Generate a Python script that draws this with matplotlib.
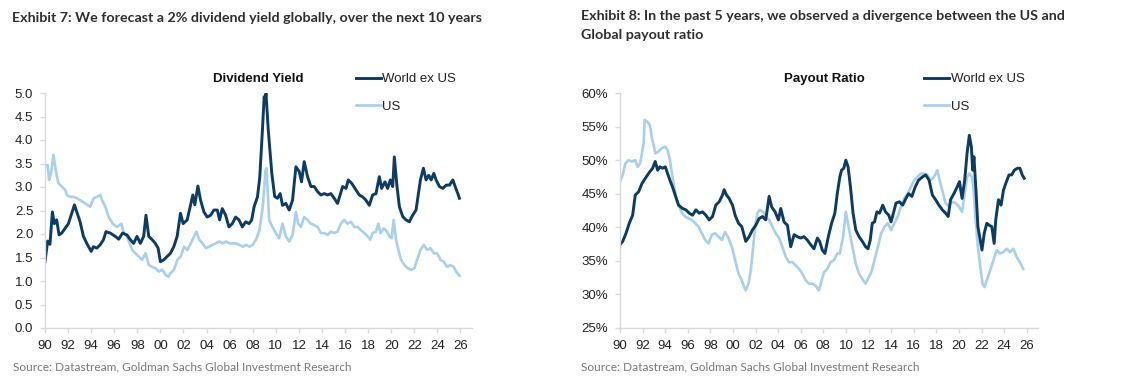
import matplotlib
matplotlib.use("Agg")
import matplotlib.pyplot as plt
from matplotlib.ticker import FixedLocator, FuncFormatter

# ---- data ----
years_ticks = list(range(1990, 2027, 2))

# Dividend yield, World ex US
dy_world_t = [1990.00, 1990.23, 1990.43, 1990.64, 1990.81, 1991.01, 1991.22, 1991.45, 1991.74, 1992.03,
              1992.26, 1992.55, 1992.75, 1993.04, 1993.33, 1993.62, 1994.00, 1994.20, 1994.49, 1994.78,
              1995.07, 1995.28, 1995.65, 1996.09, 1996.38, 1996.72, 1997.10, 1997.39, 1997.68, 1997.97,
              1998.26, 1998.55, 1998.75, 1998.99, 1999.28, 1999.56, 1999.80, 2000.00, 2000.29, 2000.58,
              2000.87, 2001.16, 2001.45, 2001.74, 2001.97, 2002.32, 2002.61, 2002.81, 2002.98, 2003.25,
              2003.48, 2003.77, 2004.06, 2004.35, 2004.64, 2004.93, 2005.13, 2005.36, 2005.65, 2005.94,
              2006.23, 2006.52, 2006.81, 2007.10, 2007.39, 2007.68, 2007.91, 2008.12, 2008.41, 2008.61,
              2008.84, 2008.99, 2009.08, 2009.15, 2009.35, 2009.65, 2009.90, 2010.14, 2010.38, 2010.58,
              2010.87, 2011.16, 2011.45, 2011.74, 2012.03, 2012.23, 2012.46, 2012.75, 2013.04, 2013.33,
              2013.62, 2013.91, 2014.20, 2014.49, 2014.77, 2015.06, 2015.35, 2015.79, 2016.08, 2016.28,
              2016.57, 2016.94, 2017.23, 2017.52, 2017.81, 2018.10, 2018.39, 2018.68, 2018.97, 2019.17,
              2019.46, 2019.69, 2019.92, 2020.13, 2020.27, 2020.50, 2020.71, 2021.00, 2021.28, 2021.57,
              2021.86, 2022.15, 2022.36, 2022.53, 2022.79, 2023.02, 2023.25, 2023.46, 2023.69, 2023.89,
              2024.18, 2024.47, 2024.76, 2025.05, 2025.34, 2025.54, 2025.77, 2025.91]
dy_world_v = [1.41, 1.85, 1.78, 2.47, 2.22, 2.30, 1.98, 2.02, 2.12, 2.22,
              2.40, 2.62, 2.47, 2.26, 1.95, 1.80, 1.63, 1.73, 1.70, 1.77,
              1.88, 2.05, 2.02, 1.95, 1.89, 2.02, 1.98, 1.88, 1.80, 1.95,
              1.80, 1.95, 2.40, 1.95, 1.88, 1.80, 1.70, 1.41, 1.45, 1.52,
              1.59, 1.73, 1.95, 2.44, 2.22, 2.30, 2.62, 2.83, 2.62, 3.02,
              2.72, 2.47, 2.36, 2.40, 2.51, 2.51, 2.30, 2.54, 2.40, 2.15,
              2.22, 2.36, 2.30, 2.15, 2.26, 2.22, 2.30, 2.58, 2.79, 3.21,
              4.21, 4.92, 4.85, 4.99, 4.20, 3.30, 2.80, 2.76, 2.86, 2.61,
              2.65, 2.51, 2.72, 3.43, 3.33, 3.11, 3.54, 3.22, 3.01, 3.01,
              2.90, 2.83, 2.86, 2.83, 2.86, 2.76, 2.65, 3.01, 2.97, 3.15,
              3.08, 2.94, 2.83, 2.79, 2.72, 2.61, 2.83, 2.86, 3.22, 2.97,
              3.11, 2.97, 3.15, 3.01, 3.64, 3.01, 2.58, 2.37, 2.30, 2.26,
              2.40, 2.51, 2.86, 3.15, 3.40, 3.15, 3.25, 3.15, 3.29, 3.15,
              3.01, 2.97, 3.04, 3.04, 3.15, 3.01, 2.86, 2.76]

# Dividend yield, US
dy_us_t = [1990.00, 1990.23, 1990.35, 1990.52, 1990.73, 1990.93, 1991.16, 1991.45, 1991.74, 1991.89,
           1992.18, 1992.47, 1992.76, 1993.05, 1993.48, 1993.92, 1994.21, 1994.50, 1994.79, 1994.94,
           1995.23, 1995.52, 1995.87, 1996.24, 1996.62, 1996.82, 1997.11, 1997.55, 1997.84, 1998.13,
           1998.42, 1998.71, 1999.00, 1999.29, 1999.58, 1999.87, 2000.16, 2000.45, 2000.69, 2000.89,
           2001.18, 2001.47, 2001.76, 2002.05, 2002.34, 2002.63, 2002.92, 2003.12, 2003.36, 2003.65,
           2003.94, 2004.23, 2004.52, 2004.81, 2005.10, 2005.39, 2005.68, 2005.97, 2006.26, 2006.55,
           2006.84, 2007.13, 2007.42, 2007.71, 2008.00, 2008.29, 2008.58, 2008.87, 2009.11, 2009.20,
           2009.42, 2009.71, 2010.00, 2010.29, 2010.58, 2010.87, 2011.16, 2011.45, 2011.74, 2011.94,
           2012.17, 2012.46, 2012.75, 2013.04, 2013.33, 2013.62, 2013.91, 2014.20, 2014.49, 2014.77,
           2015.06, 2015.35, 2015.64, 2015.93, 2016.22, 2016.51, 2016.80, 2017.09, 2017.38, 2017.67,
           2017.96, 2018.19, 2018.39, 2018.68, 2018.88, 2019.06, 2019.35, 2019.64, 2019.84, 2020.04,
           2020.21, 2020.42, 2020.62, 2020.85, 2021.14, 2021.43, 2021.72, 2022.01, 2022.24, 2022.53,
           2022.82, 2023.11, 2023.40, 2023.69, 2023.98, 2024.27, 2024.55, 2024.84, 2025.13, 2025.42,
           2025.63, 2025.91]
dy_us_v = [3.43, 3.47, 3.15, 3.29, 3.68, 3.36, 3.08, 3.01, 2.94, 2.83,
           2.79, 2.79, 2.76, 2.72, 2.65, 2.58, 2.76, 2.79, 2.83, 2.72,
           2.58, 2.36, 2.22, 2.15, 2.22, 2.02, 1.95, 1.66, 1.59, 1.52,
           1.45, 1.59, 1.34, 1.30, 1.27, 1.20, 1.24, 1.13, 1.09, 1.17,
           1.24, 1.45, 1.52, 1.73, 1.66, 1.80, 1.95, 2.05, 1.88, 1.80,
           1.70, 1.73, 1.77, 1.80, 1.84, 1.80, 1.84, 1.80, 1.80, 1.80,
           1.77, 1.73, 1.77, 1.73, 1.77, 1.88, 2.08, 2.58, 3.36, 3.40,
           2.30, 2.15, 2.02, 1.91, 2.22, 1.95, 1.84, 1.98, 2.47, 2.22,
           2.15, 2.36, 2.30, 2.22, 2.19, 2.15, 2.02, 2.02, 1.98, 2.05,
           2.02, 2.05, 2.22, 2.30, 2.22, 2.26, 2.15, 2.15, 2.08, 2.02,
           1.95, 1.88, 2.02, 2.05, 2.22, 2.02, 2.12, 2.05, 1.95, 1.91,
           2.30, 1.88, 1.66, 1.45, 1.34, 1.27, 1.24, 1.27, 1.45, 1.66,
           1.77, 1.66, 1.70, 1.59, 1.59, 1.45, 1.41, 1.30, 1.34, 1.30,
           1.20, 1.11]

# Payout ratio, World ex US (%)
po_world_t = [1990.00, 1990.24, 1990.53, 1990.82, 1991.12, 1991.35, 1991.65, 1991.94, 1992.24, 1992.44,
              1992.65, 1992.89, 1993.12, 1993.33, 1993.53, 1993.77, 1994.01, 1994.21, 1994.42, 1994.65,
              1994.89, 1995.18, 1995.54, 1995.83, 1996.13, 1996.42, 1996.72, 1997.01, 1997.30, 1997.60,
              1997.89, 1998.19, 1998.48, 1998.78, 1999.07, 1999.22, 1999.43, 1999.66, 1999.96, 2000.19,
              2000.49, 2000.78, 2001.13, 2001.43, 2001.72, 2002.02, 2002.31, 2002.61, 2002.90, 2003.20,
              2003.43, 2003.73, 2004.02, 2004.23, 2004.52, 2004.82, 2005.11, 2005.41, 2005.70, 2005.99,
              2006.29, 2006.58, 2006.88, 2007.17, 2007.47, 2007.67, 2007.91, 2008.14, 2008.44, 2008.73,
              2009.02, 2009.23, 2009.46, 2009.61, 2009.81, 2009.99, 2010.19, 2010.40, 2010.63, 2010.87,
              2011.16, 2011.45, 2011.74, 2011.95, 2012.15, 2012.33, 2012.53, 2012.74, 2012.97, 2013.26,
              2013.50, 2013.79, 2013.99, 2014.20, 2014.43, 2014.73, 2015.02, 2015.31, 2015.54, 2015.84,
              2016.13, 2016.42, 2016.77, 2017.06, 2017.36, 2017.65, 2017.94, 2018.23, 2018.53, 2018.82,
              2019.05, 2019.26, 2019.55, 2019.84, 2020.05, 2020.28, 2020.51, 2020.72, 2020.92, 2021.10,
              2021.22, 2021.33, 2021.51, 2021.68, 2021.89, 2022.04, 2022.24, 2022.47, 2022.68, 2022.91,
              2023.12, 2023.26, 2023.50, 2023.73, 2023.94, 2024.14, 2024.43, 2024.67, 2024.90, 2025.19,
              2025.40, 2025.60, 2025.78]
po_world_v = [37.4, 37.9, 39.1, 40.6, 41.8, 44.8, 45.3, 46.5, 47.3, 47.8,
              48.3, 48.8, 49.8, 48.5, 49.0, 48.8, 49.0, 48.0, 47.0, 46.0,
              44.8, 43.3, 42.8, 42.6, 42.1, 41.8, 42.6, 42.1, 42.3, 41.8,
              41.1, 41.6, 43.3, 43.8, 44.8, 45.6, 44.8, 44.3, 43.3, 41.8,
              40.6, 40.1, 37.9, 38.6, 39.6, 40.3, 41.3, 41.6, 41.1, 44.6,
              43.0, 42.3, 41.1, 42.8, 40.8, 40.3, 37.1, 38.9, 38.6, 38.4,
              38.6, 38.1, 37.4, 36.8, 38.4, 37.9, 36.6, 36.1, 38.6, 40.6,
              42.1, 45.0, 47.5, 48.5, 48.8, 50.0, 49.0, 46.0, 42.1, 39.6,
              38.6, 37.9, 37.1, 36.8, 38.1, 40.6, 40.8, 42.3, 42.1, 43.3,
              42.3, 41.8, 40.8, 42.1, 43.6, 43.8, 43.3, 44.3, 45.0, 44.6,
              46.0, 47.0, 47.5, 47.8, 47.0, 44.8, 44.1, 43.3, 42.6, 42.1,
              41.6, 44.1, 45.0, 46.0, 46.8, 44.3, 47.0, 51.0, 53.7, 52.0,
              48.5, 50.5, 45.5, 40.1, 38.1, 36.6, 39.1, 40.6, 40.3, 40.1,
              37.6, 41.1, 44.1, 43.3, 45.5, 46.5, 47.8, 47.8, 48.5, 48.8,
              48.8, 47.8, 47.3]

# Payout ratio, US (%)
po_us_t = [1990.00, 1990.24, 1990.47, 1990.77, 1991.06, 1991.35, 1991.56, 1991.77, 1991.94, 1992.09,
           1992.18, 1992.44, 1992.65, 1992.83, 1992.97, 1993.12, 1993.42, 1993.71, 1994.01, 1994.21,
           1994.42, 1994.60, 1994.80, 1995.01, 1995.24, 1995.48, 1995.77, 1996.07, 1996.36, 1996.66,
           1996.95, 1997.25, 1997.54, 1997.84, 1998.13, 1998.42, 1998.72, 1999.01, 1999.31, 1999.60,
           1999.90, 2000.19, 2000.49, 2000.78, 2000.99, 2001.13, 2001.37, 2001.58, 2001.78, 2001.96,
           2002.16, 2002.37, 2002.67, 2002.90, 2003.20, 2003.49, 2003.78, 2004.08, 2004.37, 2004.67,
           2004.96, 2005.26, 2005.55, 2005.85, 2006.14, 2006.44, 2006.73, 2007.03, 2007.32, 2007.61,
           2007.85, 2008.06, 2008.35, 2008.64, 2008.94, 2009.23, 2009.46, 2009.75, 2009.99, 2010.28,
           2010.57, 2010.87, 2011.16, 2011.45, 2011.74, 2011.95, 2012.24, 2012.53, 2012.82, 2013.12,
           2013.41, 2013.70, 2013.99, 2014.29, 2014.58, 2014.87, 2015.16, 2015.46, 2015.75, 2016.04,
           2016.33, 2016.63, 2016.92, 2017.21, 2017.50, 2017.80, 2018.09, 2018.29, 2018.53, 2018.82,
           2019.11, 2019.40, 2019.70, 2019.99, 2020.28, 2020.51, 2020.72, 2020.92, 2021.16, 2021.30,
           2021.45, 2021.68, 2021.89, 2022.09, 2022.27, 2022.47, 2022.77, 2023.06, 2023.35, 2023.64,
           2023.94, 2024.23, 2024.53, 2024.82, 2025.11, 2025.40, 2025.69]
po_us_v = [46.8, 47.8, 49.5, 50.0, 49.8, 50.0, 49.0, 49.5, 51.0, 52.5,
           56.0, 55.7, 55.2, 53.2, 52.3, 51.0, 51.3, 51.8, 52.0, 51.5,
           50.0, 48.0, 46.0, 44.1, 43.1, 42.1, 41.6, 41.3, 41.1, 40.6,
           40.1, 39.1, 38.1, 37.6, 38.9, 39.1, 38.6, 38.1, 39.3, 38.4,
           37.1, 35.1, 33.1, 32.1, 31.1, 30.6, 31.6, 33.6, 37.1, 40.1,
           42.1, 42.6, 42.3, 41.6, 41.1, 40.1, 39.1, 38.4, 37.1, 35.6,
           34.8, 34.8, 34.3, 33.8, 33.1, 32.1, 31.6, 31.6, 31.3, 30.6,
           32.1, 33.3, 33.8, 34.8, 35.1, 36.1, 36.1, 38.6, 42.3, 39.6,
           37.1, 34.6, 33.1, 32.3, 31.6, 32.3, 33.3, 35.1, 37.1, 39.1,
           40.1, 40.6, 39.6, 40.6, 41.6, 43.1, 44.3, 45.0, 46.0, 47.0,
           47.5, 48.0, 48.0, 47.8, 47.0, 47.5, 48.5, 47.0, 45.5, 43.6,
           43.1, 43.8, 43.6, 43.1, 42.3, 45.0, 47.5, 48.0, 47.5, 45.5,
           41.6, 37.1, 34.1, 31.6, 31.1, 32.1, 33.6, 35.1, 36.6, 36.1,
           36.3, 36.8, 36.3, 36.8, 35.6, 34.8, 33.8]

series_labels = ["World ex US", "US"]
exhibit_titles = ["Exhibit 7: We forecast a 2% dividend yield globally, over the next 10 years",
                  "Exhibit 8: In the past 5 years, we observed a divergence between the US and\nGlobal payout ratio"]
chart_titles = ["Dividend Yield", "Payout Ratio"]
source_text = "Source: Datastream, Goldman Sachs Global Investment Research"

DARK = "#0c3b63"
LIGHT = "#a8cfeb"
GRID = "#d9d9d9"
TXT = "#222222"

plt.rcParams["font.family"] = ["Liberation Sans", "DejaVu Sans"]

fig = plt.figure(figsize=(11.25, 3.83), dpi=100)
W, H = 1125.0, 383.0

def make_axes(x0, x1):
    return fig.add_axes([x0 / W, 1 - 328 / H, (x1 - x0) / W, 235 / H])

ax1 = make_axes(45, 472)
ax2 = make_axes(620, 1038)

panels = [
    (ax1, dy_world_t, dy_world_v, dy_us_t, dy_us_v, (0, 5), 0.5, lambda v, p: "%.1f" % v, 0.50, chart_titles[0]),
    (ax2, po_world_t, po_world_v, po_us_t, po_us_v, (25, 60), 5, lambda v, p: "%d%%" % v, 0.49, chart_titles[1]),
]

for ax, wt, wv, ut, uv, ylim, ystep, yfmt, tx, ttl in panels:
    # US drawn first so World ex US sits on top
    l_us, = ax.plot(ut, uv, color=LIGHT, lw=1.9, solid_joinstyle="round")
    l_w, = ax.plot(wt, wv, color=DARK, lw=2.1, solid_joinstyle="round")
    ax.set_xlim(1990, 2027.0)
    ax.set_ylim(*ylim)
    yt = [ylim[0] + i * ystep for i in range(int(round((ylim[1] - ylim[0]) / ystep)) + 1)]
    ax.yaxis.set_major_locator(FixedLocator(yt))
    ax.yaxis.set_major_formatter(FuncFormatter(yfmt))
    ax.xaxis.set_major_locator(FixedLocator(years_ticks))
    ax.xaxis.set_major_formatter(FuncFormatter(lambda v, p: "%02d" % (int(round(v)) % 100)))
    for s in ["top", "right"]:
        ax.spines[s].set_visible(False)
    for s in ["left", "bottom"]:
        ax.spines[s].set_color(GRID)
        ax.spines[s].set_linewidth(1.0)
    ax.tick_params(axis="both", colors=GRID, labelcolor=TXT, labelsize=9.5, length=3.5, width=1.0, pad=5)
    ax.text(tx, 1.06, ttl, transform=ax.transAxes, ha="center", va="center",
            fontsize=9.5, fontweight="bold", color="#111111")
    ax.legend([l_w, l_us], series_labels, loc="center left", bbox_to_anchor=(0.728, 1.0),
              frameon=False, fontsize=9.5, handlelength=1.9, handletextpad=0.1,
              labelspacing=1.15, borderpad=0, borderaxespad=0, labelcolor=TXT)

# exhibit titles and sources
fig.text(12 / W, 1 - 18 / H, exhibit_titles[0], family="Lato", fontweight="bold",
         fontsize=10.3, color="#2e2e2e", va="center", ha="left")
fig.text(581 / W, 1 - 10 / H, exhibit_titles[1], family="Lato", fontweight="bold",
         fontsize=10.3, color="#2e2e2e", va="top", ha="left", linespacing=1.7)
fig.text(13 / W, 1 - 367 / H, source_text, family="Lato", fontsize=8.6, color="#7a7a7a",
         va="center", ha="left")
fig.text(581 / W, 1 - 367 / H, source_text, family="Lato", fontsize=8.6, color="#7a7a7a",
         va="center", ha="left")

fig.savefig("out.png", dpi=100, facecolor="white")
